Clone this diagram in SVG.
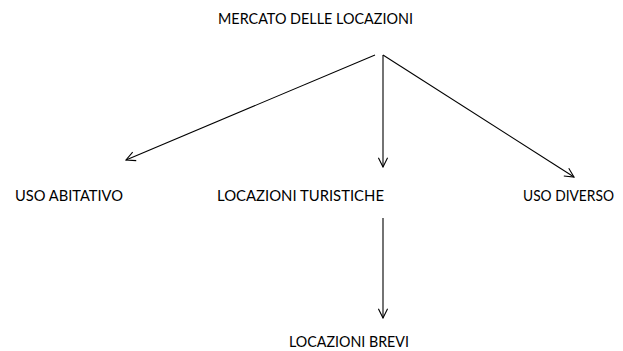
<svg xmlns="http://www.w3.org/2000/svg" width="623" height="351" viewBox="0 0 623 351">
  <style>
    .lbl { font-family: Lato, "Liberation Sans", Arial, sans-serif; font-size: 16px; fill: #000; }
    .conn { stroke: #000; stroke-width: 1.1; fill: none; }
  </style>
  <defs>
    <marker id="open-arrow" viewBox="0 0 12 12" refX="11" refY="6" markerWidth="11" markerHeight="11" markerUnits="userSpaceOnUse" orient="auto">
      <path d="M1,1 L11,6 L1,11" fill="none" stroke="#000" stroke-width="1.2"/>
    </marker>
  </defs>

  <g id="node-mercato">
    <text class="lbl" x="218" y="24" textLength="195" lengthAdjust="spacingAndGlyphs">MERCATO DELLE LOCAZIONI</text>
  </g>
  <g id="node-uso-abitativo">
    <text class="lbl" x="15" y="201" textLength="108" lengthAdjust="spacingAndGlyphs">USO ABITATIVO</text>
  </g>
  <g id="node-locazioni-turistiche">
    <text class="lbl" x="217" y="201" textLength="167" lengthAdjust="spacingAndGlyphs">LOCAZIONI TURISTICHE</text>
  </g>
  <g id="node-uso-diverso">
    <text class="lbl" x="523" y="201" font-size="15" textLength="91" lengthAdjust="spacingAndGlyphs">USO DIVERSO</text>
  </g>
  <g id="node-locazioni-brevi">
    <text class="lbl" x="289" y="347" textLength="120" lengthAdjust="spacingAndGlyphs">LOCAZIONI BREVI</text>
  </g>

  <g id="connectors">
    <line class="conn" x1="375" y1="55" x2="126" y2="160" marker-end="url(#open-arrow)"/>
    <line class="conn" x1="383" y1="55" x2="383" y2="167" marker-end="url(#open-arrow)"/>
    <line class="conn" x1="383" y1="55" x2="574" y2="177" marker-end="url(#open-arrow)"/>
    <line class="conn" x1="383" y1="218" x2="383" y2="318" marker-end="url(#open-arrow)"/>
  </g>
</svg>
